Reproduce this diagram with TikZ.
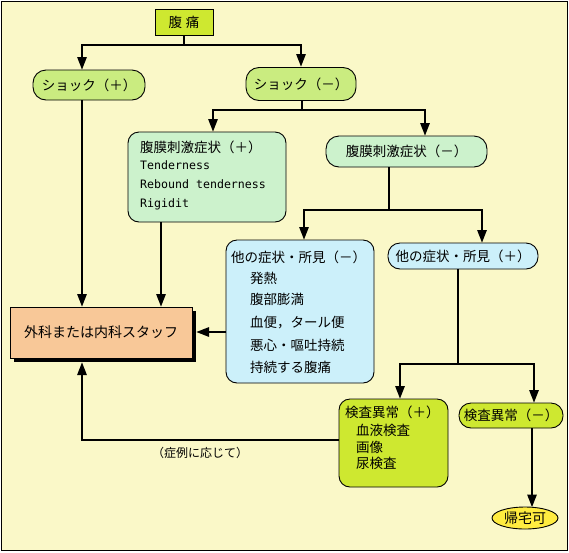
\documentclass[tikz,border=0pt]{standalone}
\usepackage{fontspec}
\newfontfamily\jp{Noto Sans CJK JP}
\newfontfamily\mono{DejaVu Sans Mono}
\usetikzlibrary{arrows.meta,shapes.geometric}
\definecolor{bgc}{RGB}{250,248,200}
\definecolor{ygreen}{RGB}{206,232,48}
\definecolor{lgreen}{RGB}{202,236,128}
\definecolor{mint}{RGB}{204,242,204}
\definecolor{lcyan}{RGB}{204,240,250}
\definecolor{peach}{RGB}{248,200,152}
\definecolor{yel}{RGB}{255,236,64}
\tikzset{
  box/.style={draw=black, line width=0.9pt, inner sep=0pt, font=\jp\fontsize{13.5}{15}\selectfont},
  pill/.style={box, rounded corners=13pt},
  rbox/.style={box, rounded corners=11pt},
  txt/.style={anchor=west, inner sep=0pt, font=\jp\fontsize{13.5}{15}\selectfont},
  mtxt/.style={anchor=west, inner sep=0pt, font=\mono\fontsize{11.6}{14}\selectfont},
  ln/.style={line width=2.7pt},
  arr/.style={ln, -{Triangle[length=13pt,width=9pt]}},
}
\begin{document}
\begin{tikzpicture}[x=1pt,y=-1pt]
\useasboundingbox (0,0) rectangle (569,552);
\draw[fill=bgc, line width=1pt] (1.5,1.5) rectangle (567.5,550.5);

% nodes
\node[box, fill=ygreen, minimum width=58pt, minimum height=26pt] (pain) at (184,22) {腹\hspace{4pt}痛};
\node[pill, fill=lgreen, minimum width=112pt, minimum height=30pt] (shockP) at (89,85) {ショック（＋）};
\node[pill, fill=lgreen, minimum width=110pt, minimum height=33pt] (shockM) at (301,84) {ショック（－）};
\node[rbox, fill=mint, minimum width=158pt, minimum height=90pt] (periP) at (207,177) {};
\node[pill, fill=mint, minimum width=161pt, minimum height=31pt] (periM) at (406.5,151.5) {腹膜刺激症状（－）};
\node[rbox, fill=lcyan, minimum width=148pt, minimum height=143pt] (otherM) at (300,311.5) {};
\node[pill, fill=lcyan, minimum width=150pt, minimum height=26pt, rounded corners=12pt] (otherP) at (463,256) {他の症状・所見（＋）};
\node[rbox, fill=ygreen, minimum width=109pt, minimum height=88pt] (testP) at (393.5,443) {};
\node[pill, fill=ygreen, minimum width=104pt, minimum height=25pt, rounded corners=12pt] (testM) at (511,415.5) {検査異常（－）};
\node[box, ellipse, fill=yel, minimum width=66pt, minimum height=22pt, font=\jp\fontsize{14}{15}\selectfont] (home) at (525,518) {帰宅可};
\fill[black] (14,311) rectangle (196,362);
\node[box, fill=peach, minimum width=182pt, minimum height=51pt, font=\jp\fontsize{14}{15}\selectfont] (staff) at (101,332.5) {外科または内科スタッフ};

% texts in boxes
\node[txt] (p1) at (140,147) {腹膜刺激症状（＋）};
\node[mtxt] (p2) at (140,165) {Tenderness};
\node[mtxt] (p3) at (140,184) {Rebound tenderness};
\node[mtxt] (p4) at (140,204) {Rigidit};
\node[txt] (o1) at (231,257) {他の症状・所見（－）};
\node[txt] (o2) at (250,278) {発熱};
\node[txt] (o3) at (250,299) {腹部膨満};
\node[txt] (o4) at (250,323) {血便，タール便};
\node[txt] (o5) at (250,345) {悪心・嘔吐持続};
\node[txt] (o6) at (250,367) {持続する腹痛};
\node[txt] (k1) at (345,412) {検査異常（＋）};
\node[txt] (k2) at (356,430) {血液検査};
\node[txt] (k3) at (356,447) {画像};
\node[txt] (k4) at (356,463) {尿検査};
\node[inner sep=0pt, font=\jp\fontsize{12}{14}\selectfont] (lab) at (200,453) {（症例に応じて）};

% junctions and targets
\coordinate (j1a) at (184,35);
\coordinate (j1) at (184,45);
\coordinate (tShP) at (82,70);
\coordinate (tShM) at (301,67);
\coordinate (s2a) at (302,100);
\coordinate (j2) at (302,110);
\coordinate (tPeriP) at (213,132);
\coordinate (tPeriM) at (425,136);
\coordinate (s3a) at (389,167);
\coordinate (j3) at (389,210);
\coordinate (tOthM) at (304,240);
\coordinate (tOthP) at (482,243);
\coordinate (s4a) at (458,269);
\coordinate (j4) at (458,364);
\coordinate (tTestP) at (400,399);
\coordinate (tTestM) at (534,403);
\coordinate (s5a) at (532,428);
\coordinate (tHome) at (532,507.5);
\coordinate (s6a) at (82,100);
\coordinate (tSt1) at (82,307);
\coordinate (s7a) at (161,222);
\coordinate (tSt2) at (161,307);
\coordinate (s8a) at (226,332);
\coordinate (tSt3) at (196,332);
\coordinate (s9a) at (339,440);
\coordinate (j9) at (82,440);
\coordinate (tSt4) at (82,362);

% connectors
\draw[ln] (j1a) -- (j1);
\draw[arr] (j1) -| (tShP);
\draw[arr] (j1) -| (tShM);
\draw[ln] (s2a) -- (j2);
\draw[arr] (j2) -| (tPeriP);
\draw[arr] (j2) -| (tPeriM);
\draw[ln] (s3a) -- (j3);
\draw[arr] (j3) -| (tOthM);
\draw[arr] (j3) -| (tOthP);
\draw[ln] (s4a) -- (j4);
\draw[arr] (j4) -| (tTestP);
\draw[arr] (j4) -| (tTestM);
\draw[arr] (s5a) -- (tHome);
\draw[arr] (s6a) -- (tSt1);
\draw[arr] (s7a) -- (tSt2);
\draw[arr] (s8a) -- (tSt3);
\draw[arr] (s9a) -- (j9) -- (tSt4);
\end{tikzpicture}
\end{document}
